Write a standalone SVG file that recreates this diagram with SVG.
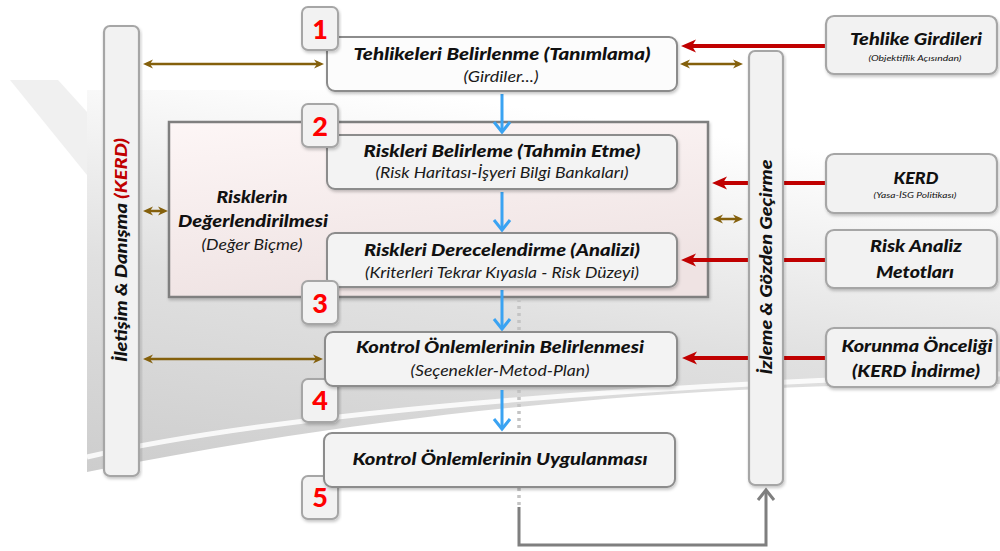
<svg xmlns="http://www.w3.org/2000/svg" width="1000" height="551" viewBox="0 0 1000 551">
  <defs>
    <style>
      text { font-family: Lato, "Open Sans", "DejaVu Sans", sans-serif; font-style: italic; fill: #111; }
      .t { font-size: 17px; font-weight: 900; text-anchor: middle; }
      .s { font-size: 14.5px; font-weight: 400; text-anchor: middle; fill: #1a1a1a; }
      .xs { font-size: 8.5px; font-weight: 400; text-anchor: middle; }
      .num { font-size: 27px; font-weight: 900; font-style: normal; fill: #ff0000; text-anchor: middle; }
      .red { fill: #c00000; }
      .box { fill: #f3f3f3; stroke: #8c8c8c; stroke-width: 2; filter: url(#sh); }
      .side { fill: #f2f2f2; stroke: #a6a6a6; stroke-width: 2.2; filter: url(#sh); }
      .badge { fill: #f2f2f2; stroke: #a6a6a6; stroke-width: 2; filter: url(#sh); }
      .inp { stroke: #c00000; stroke-width: 4; fill: none; marker-end: url(#redHead); }
      .link { stroke: #84600c; stroke-width: 2.5; fill: none; marker-start: url(#brownHead); marker-end: url(#brownHead); }
      .flow { stroke: #3aa3f2; stroke-width: 3; fill: none; marker-end: url(#blueHead); }
      .back { stroke: #7f7f7f; stroke-width: 3; fill: none; }
      .dots { stroke: #c4c4c4; stroke-width: 3.5; stroke-dasharray: 3 4; fill: none; }
    </style>
    <filter id="sh" x="-10%" y="-10%" width="120%" height="130%">
      <feDropShadow dx="1" dy="2" stdDeviation="1.5" flood-color="#000" flood-opacity="0.22"/>
    </filter>
    <linearGradient id="bgGrad" x1="0" y1="1" x2="0.35" y2="0">
      <stop offset="0" stop-color="#cdcdcd"/>
      <stop offset="0.5" stop-color="#e0e0e0"/>
      <stop offset="1" stop-color="#ffffff"/>
    </linearGradient>
    <linearGradient id="pink" x1="0" y1="0" x2="0.3" y2="1">
      <stop offset="0" stop-color="#fdf6f6"/>
      <stop offset="1" stop-color="#efe3e3"/>
    </linearGradient>
    <marker id="redHead" markerUnits="userSpaceOnUse" viewBox="0 0 15 14" markerWidth="15" markerHeight="14" refX="4" refY="7" orient="auto" overflow="visible">
      <path d="M0,0.5 L15,7 L0,13.5 L4,7 Z" fill="#c00000"/>
    </marker>
    <marker id="brownHead" markerUnits="userSpaceOnUse" viewBox="0 0 10 10" markerWidth="10" markerHeight="10" refX="3" refY="5" orient="auto-start-reverse" overflow="visible">
      <path d="M0,0.5 L10,5 L0,9.5 L3,5 Z" fill="#84600c"/>
    </marker>
    <marker id="blueHead" markerUnits="userSpaceOnUse" viewBox="-12 -10 14 20" markerWidth="14" markerHeight="20" refX="0" refY="0" orient="auto" overflow="visible">
      <path d="M-10,-8 L0,0 L-10,8" fill="none" stroke="#3aa3f2" stroke-width="3"/>
    </marker>
    <marker id="grayHead" markerUnits="userSpaceOnUse" viewBox="-12 -10 14 20" markerWidth="14" markerHeight="20" refX="0" refY="0" orient="auto" overflow="visible">
      <path d="M-10,-8 L0,0 L-10,8" fill="none" stroke="#7f7f7f" stroke-width="3"/>
    </marker>
  </defs>

  <!-- backdrop -->
  <rect width="1000" height="551" fill="#ffffff"/>
  <path d="M10,80 L58,80 L87,112 L87,175 Z" fill="#f0f0f0"/>
  <path d="M87,90 L1000,90 L1000,384 C 760,382 430,402 87,472 Z" fill="url(#bgGrad)"/>
  <path d="M87,457 C 300,408 700,382 1000,374" fill="none" stroke="#ffffff" stroke-width="5" opacity="0.85"/>

  <!-- risk assessment frame -->
  <g id="risk-assessment">
    <rect x="169" y="122" width="539" height="175" fill="url(#pink)" stroke="#7f7f7f" stroke-width="2.5" filter="url(#sh)"/>
    <text class="t" x="252" y="203" textLength="71" lengthAdjust="spacingAndGlyphs">Risklerin</text>
    <text class="t" x="253" y="227" textLength="150" lengthAdjust="spacingAndGlyphs">Değerlendirilmesi</text>
    <text class="s" x="252" y="250" textLength="101" lengthAdjust="spacingAndGlyphs">(Değer Biçme)</text>
  </g>

  <!-- connectors -->
  <g id="connectors">
    <!-- external inputs -->
    <path class="inp" d="M826,46 L692,46"/>
    <path class="inp" d="M826,183 L723,183"/>
    <path class="inp" d="M826,260 L692,260"/>
    <path class="inp" d="M826,358 L693,358"/>
    <!-- communication links -->
    <path class="link" d="M150,64 L317,64"/>
    <path class="link" d="M150,211 L161,211"/>
    <path class="link" d="M150,359 L316,359"/>
    <path class="link" d="M687,64 L736,64"/>
    <path class="link" d="M720,219 L736,219"/>
    <!-- process flow -->
    <path class="flow" d="M502,94 L502,132"/>
    <path class="flow" d="M502,192 L502,230"/>
    <path class="flow" d="M502,290 L502,329"/>
    <path class="flow" d="M502,390 L502,429"/>
    <!-- feedback to monitoring -->
    <path class="dots" d="M519,299 L519,506"/>
    <path class="back" d="M519,507 L519,545 L766,545 L766,490" marker-end="url(#grayHead)"/>
  </g>

  <!-- process steps -->
  <g id="step1">
    <rect class="box" x="327" y="37" width="350" height="54" rx="8" style="fill:#fcfcfc"/>
    <text class="t" x="502" y="60" textLength="297" lengthAdjust="spacingAndGlyphs">Tehlikeleri Belirlenme (Tanımlama)</text>
    <text class="s" x="501" y="82" textLength="75" lengthAdjust="spacingAndGlyphs">(Girdiler...)</text>
  </g>
  <g id="step2">
    <rect class="box" x="327" y="135" width="350" height="54" rx="8"/>
    <text class="t" x="502" y="157" textLength="277" lengthAdjust="spacingAndGlyphs">Riskleri Belirleme (Tahmin Etme)</text>
    <text class="s" x="502" y="178" textLength="253" lengthAdjust="spacingAndGlyphs">(Risk Haritası-İşyeri Bilgi Bankaları)</text>
  </g>
  <g id="step3">
    <rect class="box" x="327" y="233" width="350" height="54" rx="8"/>
    <text class="t" x="502" y="256" textLength="276" lengthAdjust="spacingAndGlyphs">Riskleri Derecelendirme (Analizi)</text>
    <text class="s" x="502" y="278" textLength="274" lengthAdjust="spacingAndGlyphs">(Kriterleri Tekrar Kıyasla - Risk Düzeyi)</text>
  </g>

  <g id="badge1"><rect class="badge" x="302" y="7" width="36" height="43" rx="6"/><text class="num" x="320" y="39">1</text></g>
  <g id="badge2"><rect class="badge" x="302" y="104" width="36" height="43" rx="6"/><text class="num" x="320" y="136">2</text></g>
  <g id="badge3"><rect class="badge" x="302" y="281" width="36" height="43" rx="6"/><text class="num" x="320" y="313">3</text></g>
  <g id="badge4"><rect class="badge" x="302" y="379" width="36" height="43" rx="6"/><text class="num" x="320" y="410">4</text></g>
  <g id="badge5"><rect class="badge" x="302" y="476" width="36" height="43" rx="6"/><text class="num" x="320" y="507">5</text></g>

  <g id="step4">
    <rect class="box" x="325" y="332" width="352" height="54" rx="8"/>
    <text class="t" x="500" y="353" textLength="288" lengthAdjust="spacingAndGlyphs">Kontrol Önlemlerinin Belirlenmesi</text>
    <text class="s" x="500" y="376" textLength="179" lengthAdjust="spacingAndGlyphs">(Seçenekler-Metod-Plan)</text>
  </g>
  <g id="step5">
    <rect class="box" x="324" y="433" width="351" height="54" rx="8"/>
    <text class="t" x="500" y="465" textLength="295" lengthAdjust="spacingAndGlyphs">Kontrol Önlemlerinin Uygulanması</text>
  </g>

  <!-- side bars -->
  <g id="communication">
    <rect class="side" x="104" y="26" width="35" height="450" rx="6"/>
    <text class="t" transform="translate(121,250) rotate(-90)" x="0" y="6" textLength="224" lengthAdjust="spacingAndGlyphs">İletişim &amp; Danışma <tspan class="red">(KERD)</tspan></text>
  </g>
  <g id="monitoring">
    <rect class="side" x="749" y="51" width="34" height="434" rx="6"/>
    <text class="t" transform="translate(766,267) rotate(-90)" x="0" y="6" textLength="215" lengthAdjust="spacingAndGlyphs">İzleme &amp; Gözden Geçirme</text>
  </g>

  <!-- external inputs -->
  <g id="hazard-inputs">
    <rect class="side" x="826" y="16" width="171" height="58" rx="8"/>
    <text class="t" x="916" y="45" textLength="132" lengthAdjust="spacingAndGlyphs">Tehlike Girdileri</text>
    <text class="xs" x="915" y="61" textLength="93" lengthAdjust="spacingAndGlyphs">(Objektiflik Açısından)</text>
  </g>
  <g id="kerd">
    <rect class="side" x="826" y="154" width="171" height="59" rx="8"/>
    <text class="t" x="916" y="184" textLength="45" lengthAdjust="spacingAndGlyphs">KERD</text>
    <text class="xs" x="915" y="198" textLength="83" lengthAdjust="spacingAndGlyphs">(Yasa-İSG Politikası)</text>
  </g>
  <g id="risk-methods">
    <rect class="side" x="826" y="230" width="171" height="58" rx="8"/>
    <text class="t" x="916" y="252" textLength="92" lengthAdjust="spacingAndGlyphs">Risk Analiz</text>
    <text class="t" x="915" y="278" textLength="78" lengthAdjust="spacingAndGlyphs">Metotları</text>
  </g>
  <g id="protection-priority">
    <rect class="side" x="826" y="328" width="171" height="59" rx="8"/>
    <text class="t" x="917" y="352" textLength="151" lengthAdjust="spacingAndGlyphs">Korunma Önceliği</text>
    <text class="t" x="916" y="377" textLength="128" lengthAdjust="spacingAndGlyphs">(KERD İndirme)</text>
  </g>
</svg>
